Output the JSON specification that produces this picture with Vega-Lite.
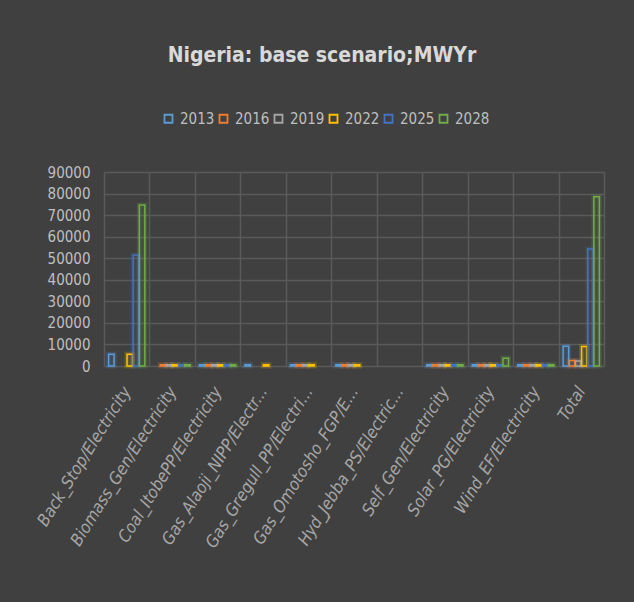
{
  "$schema": "https://vega.github.io/schema/vega-lite/v6.json",
  "width": 500,
  "height": 194,
  "autosize": {"type": "none"},
  "padding": {"left": 104, "top": 172, "right": 30, "bottom": 236},
  "background": "#404040",
  "title": {
    "text": "Nigeria: base scenario;MWYr",
    "font": "Liberation Sans Narrow, DejaVu Sans Condensed, Liberation Sans",
    "fontSize": 21,
    "fontWeight": "bold",
    "color": "#d9d9d9",
    "anchor": "middle",
    "baseline": "alphabetic",
    "dx": -32,
    "offset": 28
  },
  "config": {"view": {"stroke": null}},
  "data": {
    "values": [
      {"category": "Back_Stop/Electricity", "year": "2013", "value": 5400},
      {"category": "Back_Stop/Electricity", "year": "2022", "value": 5400},
      {"category": "Back_Stop/Electricity", "year": "2025", "value": 51500},
      {"category": "Back_Stop/Electricity", "year": "2028", "value": 74700},
      {"category": "Biomass_Gen/Electricity", "year": "2016", "value": 600},
      {"category": "Biomass_Gen/Electricity", "year": "2019", "value": 600},
      {"category": "Biomass_Gen/Electricity", "year": "2022", "value": 600},
      {"category": "Biomass_Gen/Electricity", "year": "2025", "value": 600},
      {"category": "Biomass_Gen/Electricity", "year": "2028", "value": 600},
      {"category": "Coal_ItobePP/Electricity", "year": "2013", "value": 600},
      {"category": "Coal_ItobePP/Electricity", "year": "2016", "value": 600},
      {"category": "Coal_ItobePP/Electricity", "year": "2019", "value": 600},
      {"category": "Coal_ItobePP/Electricity", "year": "2022", "value": 600},
      {"category": "Coal_ItobePP/Electricity", "year": "2025", "value": 600},
      {"category": "Coal_ItobePP/Electricity", "year": "2028", "value": 600},
      {"category": "Gas_Alaoji_NIPP/Electr...", "year": "2013", "value": 600},
      {"category": "Gas_Alaoji_NIPP/Electr...", "year": "2022", "value": 600},
      {"category": "Gas_Gregull_PP/Electri...", "year": "2013", "value": 600},
      {"category": "Gas_Gregull_PP/Electri...", "year": "2016", "value": 600},
      {"category": "Gas_Gregull_PP/Electri...", "year": "2019", "value": 600},
      {"category": "Gas_Gregull_PP/Electri...", "year": "2022", "value": 600},
      {"category": "Gas_Omotosho_FGP/E...", "year": "2013", "value": 600},
      {"category": "Gas_Omotosho_FGP/E...", "year": "2016", "value": 600},
      {"category": "Gas_Omotosho_FGP/E...", "year": "2019", "value": 600},
      {"category": "Gas_Omotosho_FGP/E...", "year": "2022", "value": 600},
      {"category": "Self_Gen/Electricity", "year": "2013", "value": 600},
      {"category": "Self_Gen/Electricity", "year": "2016", "value": 600},
      {"category": "Self_Gen/Electricity", "year": "2019", "value": 600},
      {"category": "Self_Gen/Electricity", "year": "2022", "value": 600},
      {"category": "Self_Gen/Electricity", "year": "2025", "value": 600},
      {"category": "Self_Gen/Electricity", "year": "2028", "value": 600},
      {"category": "Solar_PG/Electricity", "year": "2013", "value": 600},
      {"category": "Solar_PG/Electricity", "year": "2016", "value": 600},
      {"category": "Solar_PG/Electricity", "year": "2019", "value": 600},
      {"category": "Solar_PG/Electricity", "year": "2022", "value": 600},
      {"category": "Solar_PG/Electricity", "year": "2025", "value": 600},
      {"category": "Solar_PG/Electricity", "year": "2028", "value": 3600},
      {"category": "Wind_EF/Electricity", "year": "2013", "value": 600},
      {"category": "Wind_EF/Electricity", "year": "2016", "value": 600},
      {"category": "Wind_EF/Electricity", "year": "2019", "value": 600},
      {"category": "Wind_EF/Electricity", "year": "2022", "value": 600},
      {"category": "Wind_EF/Electricity", "year": "2025", "value": 600},
      {"category": "Wind_EF/Electricity", "year": "2028", "value": 600},
      {"category": "Total", "year": "2013", "value": 9200},
      {"category": "Total", "year": "2016", "value": 2500},
      {"category": "Total", "year": "2019", "value": 2300},
      {"category": "Total", "year": "2022", "value": 9000},
      {"category": "Total", "year": "2025", "value": 54300},
      {"category": "Total", "year": "2028", "value": 78500}
    ]
  },
  "encoding": {
    "x": {
      "field": "category",
      "type": "nominal",
      "sort": null,
      "scale": {
        "domain": ["Back_Stop/Electricity", "Biomass_Gen/Electricity", "Coal_ItobePP/Electricity", "Gas_Alaoji_NIPP/Electr...", "Gas_Gregull_PP/Electri...", "Gas_Omotosho_FGP/E...", "Hyd_Jebba_PS/Electric...", "Self_Gen/Electricity", "Solar_PG/Electricity", "Wind_EF/Electricity", "Total"],
        "paddingInner": 0,
        "paddingOuter": 0
      },
      "axis": {
        "title": null,
        "labelAngle": -58,
        "labelAlign": "right",
        "labelBaseline": "middle",
        "labelFontStyle": "italic",
        "labelFont": "Liberation Sans Narrow, DejaVu Sans Condensed, Liberation Sans",
        "labelFontSize": 17,
        "labelColor": "#a6a6a6",
        "labelPadding": 22,
        "labelOverlap": false,
        "labelLimit": 300,
        "ticks": false,
        "domain": false,
        "grid": true,
        "tickBand": "extent",
        "gridColor": "#5a5a5a",
        "gridWidth": 1.5
      }
    },
    "xOffset": {
      "field": "year",
      "type": "nominal",
      "scale": {"domain": ["2013", "2016", "2019", "2022", "2025", "2028"], "paddingInner": 0.1, "paddingOuter": 0.75}
    },
    "y": {
      "field": "value",
      "type": "quantitative",
      "scale": {"domain": [0, 90000], "nice": false},
      "axis": {
        "title": null,
        "values": [0, 10000, 20000, 30000, 40000, 50000, 60000, 70000, 80000, 90000],
        "format": "d",
        "labelFont": "Liberation Sans Narrow, DejaVu Sans Condensed, Liberation Sans",
        "labelFontSize": 15,
        "labelColor": "#bfbfbf",
        "labelPadding": 14,
        "ticks": false,
        "domain": false,
        "grid": true,
        "gridColor": "#5a5a5a",
        "gridWidth": 1.5
      }
    },
    "stroke": {
      "field": "year",
      "type": "nominal",
      "scale": {
        "domain": ["2013", "2016", "2019", "2022", "2025", "2028"],
        "range": ["#5B9BD5", "#ED7D31", "#A5A5A5", "#FFC000", "#4472C4", "#70AD47"]
      },
      "legend": {
        "orient": "none",
        "legendX": 57,
        "legendY": -61,
        "direction": "horizontal",
        "columns": 6,
        "title": null,
        "padding": 0,
        "symbolType": "square",
        "symbolSize": 64,
        "symbolStrokeWidth": 1.8,
        "symbolFillColor": "transparent",
        "symbolOpacity": 1,
        "labelFont": "Liberation Sans Narrow, DejaVu Sans Condensed, Liberation Sans",
        "labelFontSize": 15,
        "labelColor": "#bfbfbf",
        "labelOffset": 4,
        "columnPadding": 0
      }
    }
  },
  "layer": [
    {"mark": {"type": "bar", "fill": "transparent", "strokeWidth": 5, "strokeOpacity": 0.2}},
    {"mark": {"type": "bar", "fill": "transparent", "strokeWidth": 1.5}}
  ]
}
